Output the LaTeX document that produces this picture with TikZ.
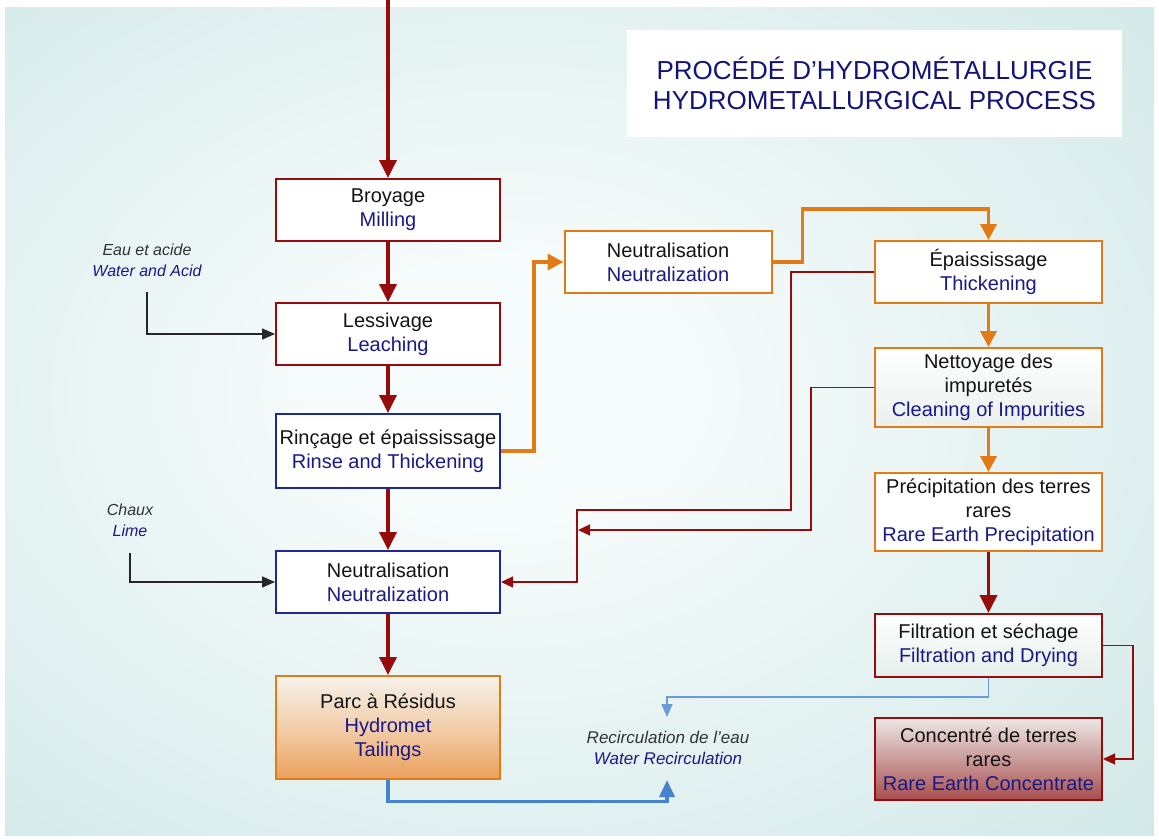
\documentclass[tikz,border=0pt]{standalone}
\usepackage{fontspec}
\setmainfont{Liberation Sans}
\usetikzlibrary{arrows.meta,calc}
\definecolor{dkred}{RGB}{150,12,12}
\definecolor{orng}{RGB}{226,122,22}
\definecolor{boxblue}{RGB}{30,40,150}
\definecolor{txtblue}{RGB}{25,25,135}
\definecolor{titleblue}{RGB}{20,20,120}
\definecolor{blueline}{RGB}{70,130,205}
\definecolor{bluethin}{RGB}{105,155,215}
\definecolor{bgin}{RGB}{246,251,251}
\definecolor{bgout}{RGB}{198,226,226}
\definecolor{txtblack}{RGB}{20,20,20}
\pgfdeclareradialshading{bgshade}{\pgfpoint{-4bp}{2bp}}{color(0bp)=(bgin); color(8bp)=(bgin); color(48bp)=(bgout); color(75bp)=(bgout)}
\tikzset{
  box/.style={draw, line width=2pt, fill=white, minimum width=224pt, minimum height=62pt,
    align=center, inner sep=0pt, text=txtblack, font=\fontsize{20}{24}\selectfont},
  rbox/.style={box, minimum width=227pt},
  thickred/.style={draw=dkred, line width=3.6pt, -{Triangle[length=18pt,width=17pt]}},
  thinred/.style={draw=dkred, line width=1.3pt, -{Triangle[length=12pt,width=11pt]}},
  orangeline/.style={draw=orng, line width=3.6pt, -{Triangle[length=16pt,width=16pt]}},
  blackline/.style={draw=black!85, line width=1.5pt, -{Triangle[length=13pt,width=11pt]}},
  bluethick/.style={draw=blueline, line width=3.8pt, -{Triangle[length=17pt,width=15pt]}},
  bluethinline/.style={draw=bluethin, line width=1.5pt, -{Triangle[length=13pt,width=11pt]}},
  sidelabel/.style={align=center, inner sep=0pt, font=\itshape\fontsize{16}{21}\selectfont, text=black!80},
  en/.style={text=txtblue}
}
\begin{document}
\begin{tikzpicture}[x=1pt,y=-1pt]
\useasboundingbox (0,0) rectangle (1159,839);
\shade[shading=bgshade] (5,7) rectangle (1154,835);

% title
\node[fill=white, minimum width=495pt, minimum height=107pt, inner sep=0pt] (titlebox) at (874.5,83.5) {};
\node[align=center, text=titleblue, font=\fontsize{26}{30}\selectfont, inner sep=0pt] (title) at (874.5,83.5)
  {PROCÉDÉ D’HYDROMÉTALLURGIE\\HYDROMETALLURGICAL PROCESS};

% left column
\coordinate (top) at (388,0);
\node[box, draw=dkred] (broy) at (388,210) {Broyage\\\textcolor{txtblue}{Milling}};
\node[box, draw=dkred] (less) at (388,334) {Lessivage\\\textcolor{txtblue}{Leaching}};
\node[box, draw=boxblue, minimum height=74pt] (rinc) at (388,451) {Rinçage et épaississage\\\textcolor{txtblue}{Rinse and Thickening}};
\node[box, draw=boxblue] (neutL) at (388,582) {Neutralisation\\\textcolor{txtblue}{Neutralization}};
\node[box, draw=orng, minimum height=103pt, top color={rgb,255:red,246;green,242;blue,236}, bottom color={rgb,255:red,234;green,160;blue,92}, middle color={rgb,255:red,242;green,206;blue,170}] (parc) at (388,727.5)
  {Parc à Résidus\\\textcolor{txtblue}{Hydromet}\\\textcolor{txtblue}{Tailings}};

% middle
\node[box, draw=orng, minimum width=207pt] (neutM) at (668,262) {Neutralisation\\\textcolor{txtblue}{Neutralization}};

% right column
\node[rbox, draw=orng] (epai) at (988.5,272) {Épaississage\\\textcolor{txtblue}{Thickening}};
\node[rbox, draw=orng, minimum height=79pt, top color=white, bottom color={rgb,255:red,234;green,240;blue,238}] (nett) at (988.5,387.5)
  {Nettoyage des\\impuretés\\\textcolor{txtblue}{Cleaning of Impurities}};
\node[rbox, draw=orng, minimum height=78pt] (prec) at (988.5,512)
  {Précipitation des terres\\rares\\\textcolor{txtblue}{Rare Earth Precipitation}};
\node[rbox, draw=dkred, minimum height=63pt, top color=white, bottom color={rgb,255:red,230;green,238;blue,236}] (filt) at (988.5,645.5)
  {Filtration et séchage\\\textcolor{txtblue}{Filtration and Drying}};
\node[rbox, draw=dkred, minimum height=82pt, top color={rgb,255:red,236;green,232;blue,230}, bottom color={rgb,255:red,168;green,78;blue,78}] (conc) at (988.5,759)
  {Concentré de terres\\rares\\\textcolor{txtblue}{Rare Earth Concentrate}};

% side labels
\node[sidelabel] (eau) at (147,260) {Eau et acide\\\textcolor{txtblue}{Water and Acid}};
\node[sidelabel] (chaux) at (130,520) {Chaux\\\textcolor{txtblue}{Lime}};
\node[sidelabel, font=\itshape\fontsize{17}{21}\selectfont] (recirc) at (668,748) {Recirculation de l’eau\\\textcolor{txtblue}{Water Recirculation}};

\coordinate (e1) at (147,292);
\coordinate (c1) at (130,553);
\coordinate (rtop) at (667,717);
\coordinate (rbot) at (667,780);
\coordinate (j1) at (577,510);
\coordinate (j2) at (578,530);

% main flow
\draw[thickred] (top) -- (broy);
\draw[thickred] (broy) -- (less);
\draw[thickred] (less) -- (rinc);
\draw[thickred] (rinc) -- (neutL);
\draw[thickred] (neutL) -- (parc);

\draw[orangeline] (rinc.east) -- ++(33,0) |- (neutM.west);
\draw[orangeline] (neutM.east) -- ++(30,0) -- ++(0,-53) -| (epai.north);
\draw[orangeline] (epai) -- (nett);
\draw[orangeline] (nett) -- (prec);
\draw[thickred] (prec) -- (filt);
\draw[thinred] (filt.east) -- ++(30,0) |- (conc.east);

% returns
\draw[thinred] (epai.west) -- ++(-83,0) |- (j1) |- (neutL.east);
\draw[thinred] (nett.west) -- ++(-63,0) |- (j2);

% inputs
\draw[blackline] (e1) |- (less.west);
\draw[blackline] (c1) |- (neutL.west);

% water recirculation
\draw[bluethinline] (filt.south) -- ++(0,19) -| (rtop);
\draw[bluethick] (parc.south) -- ++(0,21.5) -| (rbot);
\end{tikzpicture}
\end{document}
